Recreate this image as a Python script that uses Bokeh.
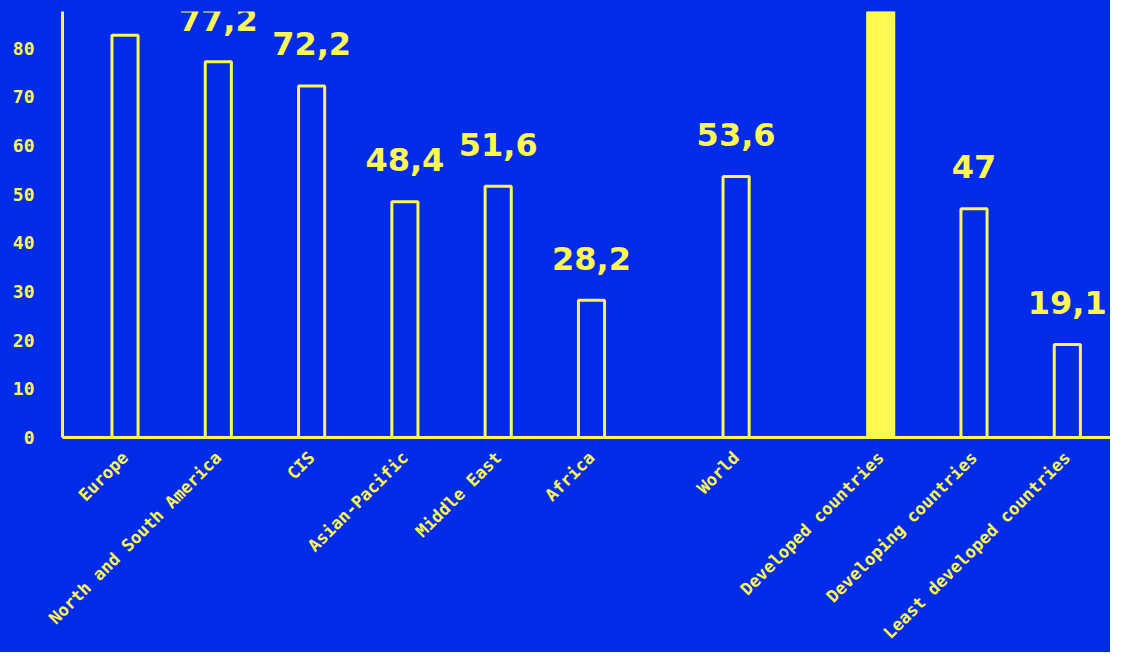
from bokeh.plotting import figure
from bokeh.models import ColumnDataSource, SingleIntervalTicker, FixedTicker, Range1d
from bokeh.embed import file_html
from bokeh.resources import INLINE
from bokeh.core.properties import value
import math

# ---- data ----
categories = ["Europe", "North and South America", "CIS", "Asian-Pacific",
              "Middle East", "Africa", "World", "Developed countries",
              "Developing countries", "Least developed countries"]
groups = ["Regions", "Regions", "Regions", "Regions", "Regions", "Regions",
          "World", "Development", "Development", "Development"]
values = [82.6, 77.2, 72.2, 48.4, 51.6, 28.2, 53.6, 89.0, 47.0, 19.1]
labels = ["", "77,2", "72,2", "48,4", "51,6", "28,2", "53,6", "", "47", "19,1"]
highlighted = ["Developed countries"]

BG = "#002BE7"
YEL = "#FFF852"
GROUP_GAP = 0.55

# category positions: one unit per category, extra gap between groups
xs = []
gi = 0
for i, g in enumerate(groups):
    if i > 0 and g != groups[i - 1]:
        gi += 1
    xs.append(round(i + GROUP_GAP * gi, 2))

fills = [YEL if c in highlighted else BG for c in categories]
source = ColumnDataSource(data=dict(x=xs, top=values, label=labels, fill=fills))

p = figure(
    width=1110, height=652,
    x_range=Range1d(-0.67, 10.563),
    y_range=Range1d(0, 87.5),
    output_backend="svg", toolbar_location=None,
    min_border_left=62, min_border_right=0, min_border_top=11, min_border_bottom=215,
)
p.styles = {"background-color": BG}
p.background_fill_color = BG
p.border_fill_color = BG
p.outline_line_color = None
p.grid.grid_line_color = None

p.vbar(x="x", top="top", width=0.28, source=source,
       fill_color="fill", line_color=YEL, line_width=3)

p.text(x="x", y="top", text="label", source=source,
       text_align="center", text_baseline="alphabetic", y_offset=-42,
       text_font=value("DejaVu Sans"), text_font_style="bold",
       text_font_size="32px", text_color=YEL)

# y axis
p.yaxis.ticker = SingleIntervalTicker(interval=10, num_minor_ticks=0)
p.yaxis.major_label_text_font = "DejaVu Sans Mono"
p.yaxis.major_label_text_font_style = "bold"
p.yaxis.major_label_text_font_size = "18px"
p.yaxis.major_label_text_color = YEL
p.yaxis.major_label_standoff = 28
p.yaxis.major_tick_line_color = None
p.yaxis.major_tick_out = 0
p.yaxis.major_tick_in = 0
p.yaxis.minor_tick_line_color = None
p.yaxis.axis_line_color = YEL
p.yaxis.axis_line_width = 3

# x axis
p.xaxis.ticker = FixedTicker(ticks=xs)
p.xaxis.major_label_overrides = {x: c for x, c in zip(xs, categories)}
p.xaxis.major_label_orientation = math.pi / 4
p.xaxis.major_label_text_font = "DejaVu Sans Mono"
p.xaxis.major_label_text_font_style = "bold"
p.xaxis.major_label_text_font_size = "17px"
p.xaxis.major_label_text_color = YEL
p.xaxis.major_label_standoff = 17
p.xaxis.major_tick_line_color = None
p.xaxis.major_tick_out = 0
p.xaxis.major_tick_in = 0
p.xaxis.minor_tick_line_color = None
p.xaxis.axis_line_color = YEL
p.xaxis.axis_line_width = 3

open("out.html", "w").write(file_html(p, INLINE))
